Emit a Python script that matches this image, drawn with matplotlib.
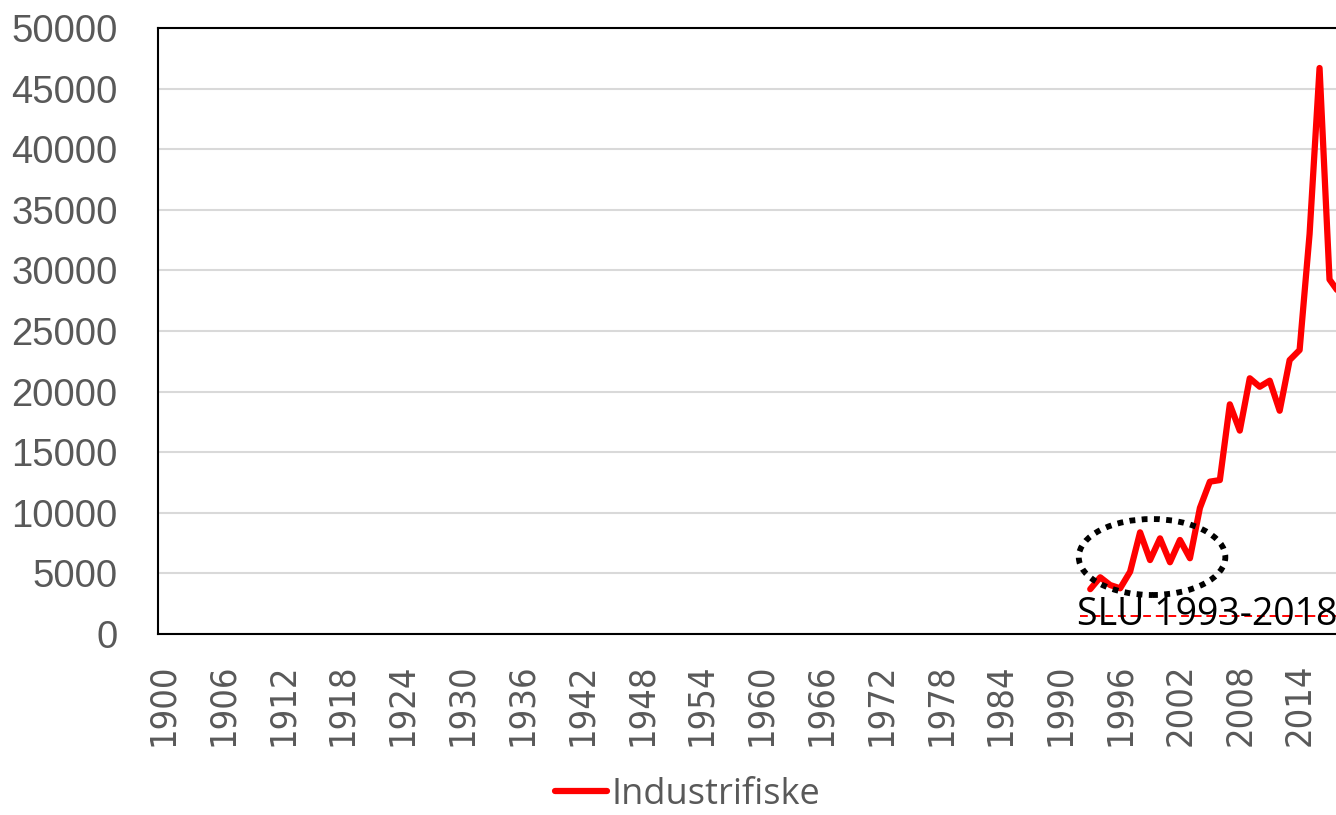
import matplotlib
matplotlib.use("Agg")
import matplotlib.pyplot as plt
from matplotlib.patches import Ellipse

# ---- data ----
years = list(range(1993, 2019))
industrifiske = [3700, 4680, 4040, 3770, 5140, 8390, 6100, 7890, 5920, 7760,
                 6250, 10400, 12570, 12700, 18950, 16780, 21100, 20400, 20900,
                 18420, 22600, 23430, 33000, 46700, 29250, 28100]
series_label = "Industrifiske"

ref_start, ref_end, ref_value = 1992, 2018, 1450
annotation_text = "SLU 1993-2018"

tick_years = list(range(1900, 2018, 6))
y_ticks = list(range(0, 50001, 5000))

# ---- figure ----
W, H = 1336, 815
fig = plt.figure(figsize=(W / 100, H / 100), dpi=100)
ax = fig.add_axes([158 / W, 181 / H, 1 - 158 / W, 606 / H])

ax.set_xlim(1899.5, 2017.65)
ax.set_ylim(0, 50000)

ax.plot(years, industrifiske, color="#FF0000", lw=4.5,
        solid_joinstyle="round", solid_capstyle="round", label=series_label,
        zorder=3)

ax.plot([ref_start, ref_end], [ref_value, ref_value], color="#FF0000", lw=1.4,
        ls=(0, (4, 2.5)), zorder=2)

ell = Ellipse((1999.2, 6350), 14.7, 6270, fill=False, edgecolor="black",
              lw=4.2, ls=(0, (1, 1.1)), zorder=4)
ax.add_patch(ell)

ax.text(1991.7, 1600, annotation_text, fontsize=27, family="Open Sans",
        color="black", va="center", ha="left", zorder=5, clip_on=False)

# grid
ax.set_yticks(y_ticks)
ax.yaxis.grid(True, color="#D9D9D9", lw=1.5)
ax.set_axisbelow(True)

for s in ["left", "bottom", "top"]:
    ax.spines[s].set_color("black")
    ax.spines[s].set_linewidth(1.5)
ax.spines["right"].set_visible(False)

ax.set_xticks(tick_years)
ax.set_xticklabels([str(y) for y in tick_years], rotation=90,
                   fontsize=26, color="#595959",
                   family="DejaVu Sans", fontstretch="condensed")
ax.set_yticklabels([str(v) for v in y_ticks], fontsize=27.5,
                   color="#595959", family="Liberation Sans")
ax.tick_params(axis="both", length=0)
ax.tick_params(axis="y", pad=29)
ax.tick_params(axis="x", pad=21)

fig.legend(loc="center", bbox_to_anchor=(0.5146, 0.025), frameon=False,
           prop={"family": "Open Sans", "size": 26}, labelcolor="#595959",
           handlelength=1.45, handletextpad=0.12, borderaxespad=0,
           borderpad=0.1)

fig.savefig("out.png", dpi=100)
